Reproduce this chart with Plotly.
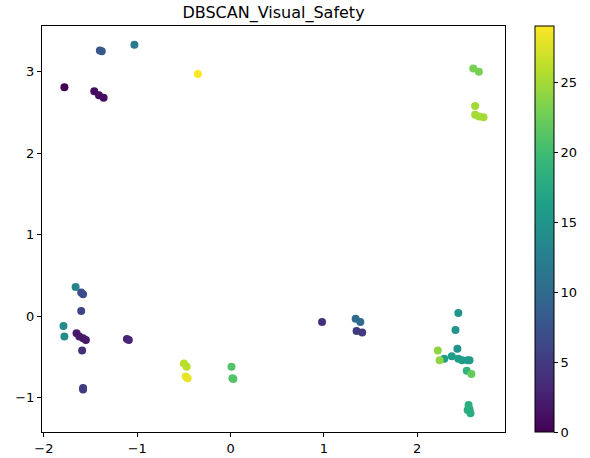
import plotly.graph_objects as go

x_vals = [-1.78, -1.46, -1.41, -1.36,
          -1.65, -1.62, -1.58, -1.55,
          -1.11, -1.09,
          0.98, -1.59,
          -1.58, -1.58, 1.35, 1.41,
          -1.60,
          -1.60, -1.58,
          -1.40, -1.38,
          1.34, 1.39,
          -1.03,
          -1.66, -1.79, -1.78,
          2.44, 2.41, 2.43,
          2.29, 2.37, 2.44, 2.48, 2.54, 2.56,
          2.55, 2.56, 2.54, 2.57,
          2.53, 2.58,
          0.01, 0.02, 0.03,
          2.60, 2.66,
          2.62, 2.62, 2.66, 2.71,
          2.22, 2.24,
          -0.50, -0.47,
          -0.48, -0.46,
          -0.35]
y_vals = [2.81, 2.76, 2.71, 2.68,
          -0.21, -0.25, -0.27, -0.29,
          -0.28, -0.29,
          -0.07, -0.42,
          -0.88, -0.90, -0.18, -0.20,
          0.065,
          0.29, 0.27,
          3.26, 3.25,
          -0.03, -0.07,
          3.33,
          0.36, -0.12, -0.25,
          0.04, -0.17, -0.40,
          -0.52, -0.49, -0.52, -0.54, -0.54, -0.54,
          -1.09, -1.14, -1.15, -1.19,
          -0.67, -0.71,
          -0.62, -0.76, -0.77,
          3.04, 3.00,
          2.58, 2.47, 2.45, 2.44,
          -0.42, -0.54,
          -0.58, -0.62,
          -0.74, -0.76,
          2.97]
labels = [0, 1, 1, 1,
          2, 2, 2, 2,
          3, 3,
          4, 4,
          5, 5, 5, 5,
          6,
          7, 7,
          8, 8,
          10, 10,
          12,
          13, 14, 14,
          15, 15, 15,
          16, 16, 16, 16, 16, 16,
          18, 18, 18, 18,
          19, 22,
          21, 21, 21,
          23, 23,
          25, 25, 25, 25,
          24, 24,
          26, 26,
          28, 28,
          29]

W, H = 590, 458
L, R, T, B = 42, 505, 26, 432

fig = go.Figure()
fig.add_trace(go.Scatter(
    x=x_vals, y=y_vals, mode="markers",
    marker=dict(
        size=8, color=labels, colorscale="Viridis", cmin=0, cmax=29,
        line=dict(width=0),
        showscale=True,
        colorbar=dict(
            x=(535 - L) / (R - L), xanchor="left", xpad=0,
            y=0.5, yanchor="middle", ypad=0,
            len=1.0, lenmode="fraction",
            thickness=19, outlinewidth=1, outlinecolor="black",
            tickvals=[0, 5, 10, 15, 20, 25], ticks="outside", ticklen=4,
            tickcolor="black", tickfont=dict(size=13, color="black"),
        ),
    ),
    showlegend=False,
))

axis_common = dict(
    showgrid=False, zeroline=False, showline=True, linecolor="black", linewidth=1,
    mirror=True, ticks="outside", ticklen=4, tickcolor="black",
    tickfont=dict(size=13, color="black"),
)
fig.update_xaxes(range=[-2.02, 2.94], tickvals=[-2, -1, 0, 1, 2], **axis_common)
fig.update_yaxes(range=[-1.42, 3.56], tickvals=[-1, 0, 1, 2, 3], **axis_common)

fig.update_layout(
    width=W, height=H,
    margin=dict(l=L, r=W - R, t=T, b=H - B, autoexpand=False),
    paper_bgcolor="white", plot_bgcolor="white",
    font=dict(family="DejaVu Sans", color="black"),
    title=dict(text="DBSCAN_Visual_Safety", x=(L + (R - L) / 2) / W, xanchor="center",
               y=1 - 12 / H, yanchor="middle", font=dict(size=16, color="black")),
)

fig.write_html("out.html")
